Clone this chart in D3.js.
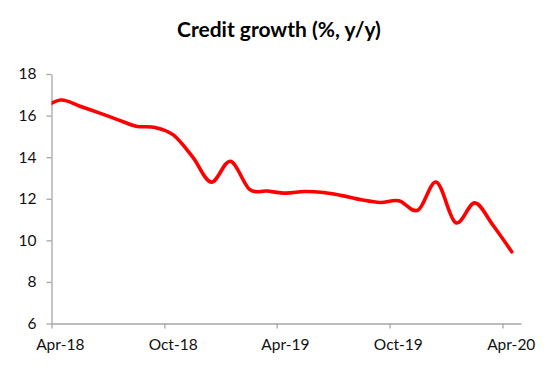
<!DOCTYPE html>
<html>
<head>
<meta charset="utf-8">
<script src="https://cdn.jsdelivr.net/npm/d3@7"></script>
<style>
  body { margin: 0; background: #fff; }
  .axis text { font-family: Lato, "Open Sans", sans-serif; font-size: 15.5px; fill: #111; }
  .axis path, .axis line { stroke: #a6a6a6; stroke-width: 1.3px; }
  .title { font-family: Lato, sans-serif; font-weight: bold; font-size: 21px; fill: #000; }
</style>
</head>
<body>
<div id="chart"></div>
<script>

// Credit growth (%, y/y) -- monthly, plotted mid-month
var months = ["2018-03-16","2018-04-16","2018-05-16","2018-06-16","2018-07-16","2018-08-16",
              "2018-09-16","2018-10-16","2018-11-16","2018-12-16","2019-01-16","2019-02-16",
              "2019-03-16","2019-04-16","2019-05-16","2019-06-16","2019-07-16","2019-08-16",
              "2019-09-16","2019-10-16","2019-11-16","2019-12-16","2020-01-16","2020-02-16",
              "2020-03-16","2020-04-16"];
var growth = [16.3, 16.75, 16.46, 16.14, 15.82, 15.49,
              15.43, 15.06, 14.0, 12.8, 13.8, 12.45,
              12.37, 12.27, 12.35, 12.3, 12.15, 11.95,
              11.82, 11.9, 11.45, 12.8, 10.85, 11.8,
              10.75, 9.45];

var xTicks = ["2018-04-01","2018-10-01","2019-04-01","2019-10-01","2020-04-01"];
var yTicks = [6, 8, 10, 12, 14, 16, 18];
var xStart = "2018-04-01", xEnd = "2020-05-01";

var width = 558, height = 377;
var margin = {top: 74, right: 37, bottom: 53.5, left: 51.5};

var parse = d3.timeParse("%Y-%m-%d");

var data = months.map(function(m, i) { return {date: parse(m), value: growth[i]}; });

var svg = d3.select("#chart").append("svg")
      .attr("width", width)
      .attr("height", height);

var x = d3.scaleTime()
          .domain([parse(xStart), parse(xEnd)])
          .range([margin.left, width - margin.right]);

var y = d3.scaleLinear()
          .domain([6, 18])
          .range([height - margin.bottom, margin.top]);

svg.append("text")
   .attr("class", "title")
   .attr("x", width / 2)
   .attr("y", 36.7)
   .attr("text-anchor", "middle")
   .text("Credit growth (%, y/y)");

// y axis
svg.append("g")
   .attr("class", "axis")
   .attr("transform", "translate(" + margin.left + ",0)")
   .call(d3.axisLeft(y).tickValues(yTicks).tickSize(5).tickSizeOuter(0).tickPadding(10));

// x axis, labels sit in the middle of the month
var halfMonth = x(parse("2018-04-16")) - x(parse("2018-04-01"));

var xAxis = svg.append("g")
   .attr("class", "axis")
   .attr("transform", "translate(0," + (height - margin.bottom) + ")")
   .call(d3.axisBottom(x)
           .tickValues(xTicks.map(parse))
           .tickFormat(d3.timeFormat("%b-%y"))
           .tickSize(5)
           .tickSizeOuter(0)
           .tickPadding(10.5));

xAxis.selectAll(".tick text").attr("dx", halfMonth - 1);

// clip the line at the plot area (first point is before the axis start)
svg.append("clipPath")
   .attr("id", "plot")
   .append("rect")
   .attr("x", margin.left)
   .attr("y", 0)
   .attr("width", width - margin.left - margin.right)
   .attr("height", height);

var line = d3.line()
             .x(function(d) { return x(d.date); })
             .y(function(d) { return y(d.value); })
             .curve(d3.curveCardinal.tension(0));

svg.append("path")
   .datum(data)
   .attr("clip-path", "url(#plot)")
   .attr("d", line)
   .attr("fill", "none")
   .attr("stroke", "#ff0000")
   .attr("stroke-width", 3.6)
   .attr("stroke-linejoin", "round")
   .attr("stroke-linecap", "round");

</script>
</body>
</html>
